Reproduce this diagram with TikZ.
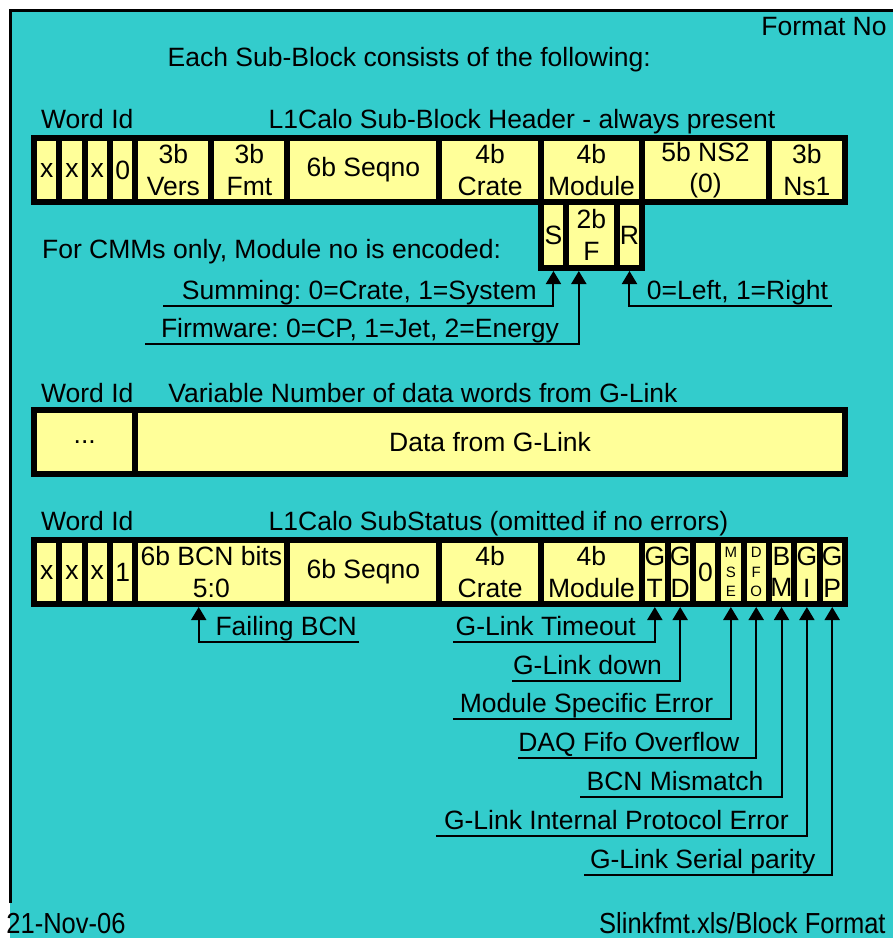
\documentclass[tikz,border=0pt]{standalone}
\usepackage{fontspec}
\setmainfont{Liberation Sans}
\usetikzlibrary{arrows.meta}
\definecolor{panelcyan}{HTML}{33CCCC}
\definecolor{fieldyellow}{HTML}{FFFF99}
\frenchspacing

\begin{document}
\begin{tikzpicture}[x=0.5pt, y=-0.5pt,
    font=\fontsize{13.25}{15.8}\selectfont,
    field/.style={draw, line width=3pt, fill=fieldyellow, inner sep=0pt,
                  align=center, minimum height=32pt},
    tinyfield/.style={field, font=\fontsize{7.5}{9.8}\selectfont},
    txt/.style={anchor=base west, inner sep=0pt},
    lbl/.style={anchor=south west, inner ysep=3.3pt, text depth=0pt, outer sep=0pt},
    arr/.style={-{Triangle[width=7.5pt,length=6.5pt]}, line width=1pt}]
    % page and frame
    \useasboundingbox (0,0) rectangle (893,938);
    \fill[white] (0,0) rectangle (893,938);
    \fill[panelcyan] (10,10) rectangle (893,938);
    \draw[line width=1.5pt] (10,903) -- (10,10) -- (893,10);

    \node[txt, anchor=base east] (fmtNo) at (887,35) {Format No};
    \node[txt] (intro) at (167.3,66.7) {Each Sub-Block consists of the following:};

    % sub-block header, one bit = 25.34
    \node[txt] (hdrId)    at (40.7,128.3)  {Word Id};
    \node[txt] (hdrTitle) at (268.3,128.3) {L1Calo Sub-Block Header - always present};
    \foreach \a/\b/\n/\t in {0/1/hX1/x, 1/2/hX2/x, 2/3/hX3/x, 3/4/hNil/0,
                             4/7/hVers/{3b\\Vers}, 7/10/hFmt/{3b\\Fmt},
                             10/16/hSeq/{6b Seqno}, 16/20/hCrate/{4b\\Crate},
                             20/24/hMod/{4b\\Module}, 24/29/hNsTwo/{5b NS2\\(0)},
                             29/32/hNsOne/{3b\\Ns1}}
        \node[field, minimum width={12.67pt*(\b-\a)}] (\n) at ({34+12.67*(\a+\b)},170) {\t};
    \foreach \a/\b/\n/\t in {20/21/mS/S, 21/23/mF/{2b\\F}, 23/24/mR/R}
        \node[field, minimum width={12.67pt*(\b-\a)}, minimum height=33pt] (\n) at ({34+12.67*(\a+\b)},235) {\t};

    \node[txt] (cmmNote) at (41.7,258.3) {For CMMs only, Module no is encoded:};
    \node[lbl, inner xsep=9.3pt] (sum) at (163.3,306) {Summing: 0=Crate, 1=System};
    \node[lbl, inner xsep=8pt]   (fw)  at (145,344)   {Firmware: 0=CP, 1=Jet, 2=Energy};
    \node[lbl, anchor=south east, inner xsep=1.8pt] (lr) at (831.7,306) {0=Left, 1=Right};

    % data words
    \node[txt] (datId)    at (40.7,402) {Word Id};
    \node[txt] (datTitle) at (168,402)  {Variable Number of data words from G-Link};
    \foreach \a/\b/\n/\t in {0/4/dDots/{...}, 4/32/dData/{Data from G-Link}}
        \node[field, minimum width={12.67pt*(\b-\a)}] (\n) at ({34+12.67*(\a+\b)},442) {\t};

    % sub-status
    \node[txt] (stId)    at (40.7,530)  {Word Id};
    \node[txt] (stTitle) at (268.3,530) {L1Calo SubStatus (omitted if no errors)};
    \foreach \a/\b/\n/\t in {0/1/sX1/x, 1/2/sX2/x, 2/3/sX3/x, 3/4/sOne/1,
                             4/10/sBcn/{6b BCN bits\\5:0}, 10/16/sSeq/{6b Seqno},
                             16/20/sCrate/{4b\\Crate}, 20/24/sMod/{4b\\Module},
                             24/25/sGT/{G\\T}, 25/26/sGD/{G\\D}, 26/27/sNil/0,
                             29/30/sBM/{B\\M}, 30/31/sGI/{G\\I}, 31/32/sGP/{G\\P}}
        \node[field, minimum width={12.67pt*(\b-\a)}] (\n) at ({34+12.67*(\a+\b)},572) {\t};
    \node[tinyfield, minimum width=12.67pt] (sMSE) at ({34+12.67*55},572) {M\\S\\E};
    \node[tinyfield, minimum width=12.67pt] (sDFO) at ({34+12.67*57},572) {D\\F\\O};

    \node[lbl, anchor=south east, inner xsep=1.2pt] (fb) at (359.3,642.3) {Failing BCN};
    \node[lbl, inner xsep=1.2pt] (tmo) at (453.3,642.3) {G-Link Timeout};
    \node[lbl, inner xsep=0.4pt] (dwn) at (512.3,680.7) {G-Link down};
    \node[lbl, inner xsep=3.3pt] (mse) at (453.3,719.3) {Module Specific Error};
    \node[lbl, inner xsep=0pt]   (dfo) at (518.3,758.3) {DAQ Fifo Overflow};
    \node[lbl, inner xsep=3.3pt] (bcm) at (580,797.3)   {BCN Mismatch};
    \node[lbl, inner xsep=4pt]   (gip) at (436,836)     {G-Link Internal Protocol Error};
    \node[lbl, inner xsep=3pt]   (gsp) at (584,875)     {G-Link Serial parity};

    \foreach \a/\b in {sum/mS, tmo/sGT, dwn/sGD, mse/sMSE, dfo/sDFO, bcm/sBM, gip/sGI, gsp/sGP}
        \draw[arr] (\a.south west) -| (\b.south);
    \draw[arr] (fw.south west) -| ([xshift=-6.33pt]mF.south);
    \draw[arr] (lr.south east) -| (mR.south);
    \draw[arr] (fb.south east) -| ([xshift=-6.33pt]sBcn.south);

    % footer
    \node[txt] (date) at (6,933) {\fontsize{14.5}{17}\selectfont\scalebox{0.88}[1]{21-Nov-06}};
    \node[txt, anchor=base east] (src) at (886,933) {\fontsize{14.5}{17}\selectfont\scalebox{0.88}[1]{Slinkfmt.xls/Block Format}};
\end{tikzpicture}
\end{document}
